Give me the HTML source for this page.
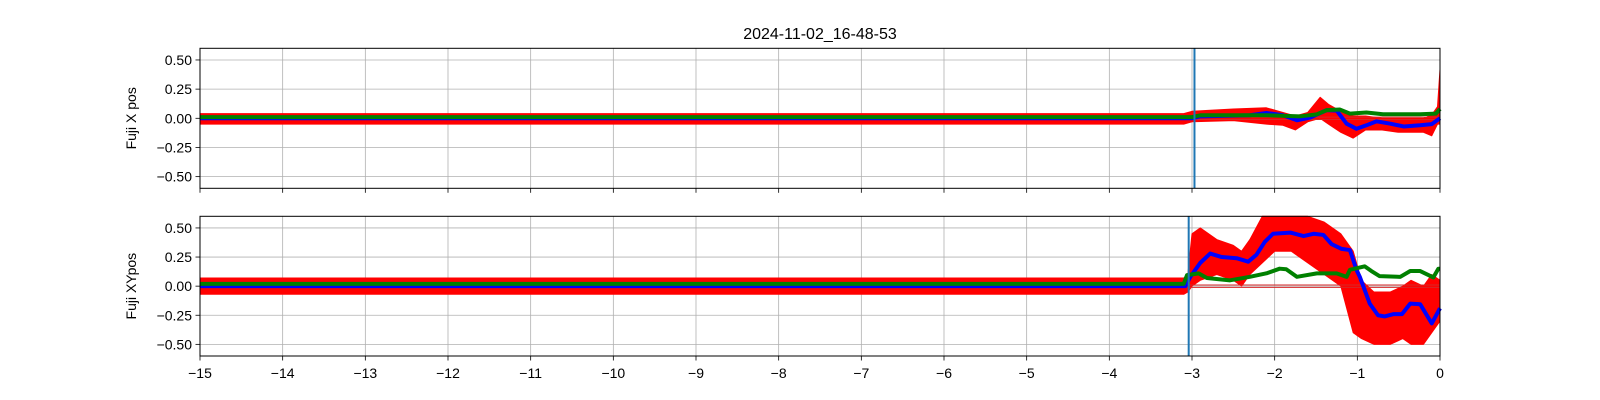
<!DOCTYPE html>
<html><head><meta charset="utf-8"><style>
body{margin:0;background:#fff}
svg{display:block;font-family:"Liberation Sans","DejaVu Sans",sans-serif}
</style></head><body>
<svg id="c" width="1600" height="400" xmlns="http://www.w3.org/2000/svg">
<text x="820" y="39" text-anchor="middle" font-size="16" fill="#000">2024-11-02_16-48-53</text>
</svg>
<script>
// ---- data ----
const xTicks = [-15,-14,-13,-12,-11,-10,-9,-8,-7,-6,-5,-4,-3,-2,-1,0];
const yTicks = [0.5,0.25,0,-0.25,-0.5];
const yTickLabels = ["0.50","0.25","0.00","\u22120.25","\u22120.50"];
const panelLabels = ["Fuji X pos","Fuji XYpos"];
const eventTimes = [-2.97,-3.04];
const refLevels = [0.01,-0.01];
// top panel
const topBlueT = [-15,-3.0,-2.9,-2.3,-2.1,-1.9,-1.73,-1.57,-1.37,-1.25,-1.13,-1.01,-0.89,-0.77,-0.6,-0.44,-0.24,-0.1,0];
const topBlueV = [0,0,0.017,0.026,0.046,0.026,-0.017,0.006,0.07,0.066,-0.046,-0.09,-0.06,-0.026,-0.046,-0.07,-0.06,-0.05,0];
const topGreenT = [-15,-3.0,-2.9,-2.1,-1.69,-1.49,-1.37,-1.21,-1.09,-0.89,-0.69,-0.24,-0.05,0];
const topGreenV = [0.01,0.01,0.026,0.026,0.017,0.034,0.07,0.075,0.04,0.05,0.035,0.035,0.04,0.08];
const topRedT = [-15,-3.1,-3.0,-2.5,-2.1,-1.9,-1.75,-1.6,-1.45,-1.35,-1.2,-1.05,-0.9,-0.7,-0.5,-0.2,-0.1,-0.03,0];
const topRedHi = [0.04,0.04,0.06,0.08,0.09,0.05,0.02,0.05,0.18,0.12,0.06,0.02,0.02,0,0,0,0.03,0.1,0.42];
const topRedLo = [-0.05,-0.05,-0.03,-0.02,-0.05,-0.06,-0.1,-0.03,0,-0.05,-0.12,-0.17,-0.1,-0.1,-0.12,-0.12,-0.15,-0.05,-0.05];
// bottom panel
const botBlueT = [-15,-3.08,-3.02,-2.9,-2.78,-2.64,-2.46,-2.32,-2.22,-2.12,-2.02,-1.81,-1.65,-1.53,-1.41,-1.31,-1.19,-1.09,-1.01,-0.97,-0.85,-0.75,-0.67,-0.56,-0.46,-0.36,-0.24,-0.1,0];
const botBlueV = [0,0,0.08,0.2,0.28,0.25,0.24,0.21,0.27,0.38,0.45,0.46,0.43,0.45,0.44,0.36,0.32,0.31,0.14,0.08,-0.15,-0.25,-0.26,-0.24,-0.24,-0.15,-0.155,-0.32,-0.19];
const botGreenT = [-15,-3.1,-3.06,-2.92,-2.82,-2.54,-2.3,-2.1,-1.94,-1.86,-1.73,-1.49,-1.25,-1.13,-1.09,-0.91,-0.83,-0.73,-0.48,-0.36,-0.24,-0.08,-0.02,0];
const botGreenV = [0.02,0.02,0.095,0.11,0.07,0.05,0.08,0.11,0.15,0.145,0.08,0.11,0.11,0.08,0.14,0.17,0.13,0.086,0.08,0.13,0.13,0.075,0.15,0.15];
const botRedT = [-15,-3.1,-3.05,-3.0,-2.9,-2.7,-2.5,-2.4,-2.3,-2.15,-2.0,-1.8,-1.6,-1.4,-1.2,-1.05,-0.95,-0.8,-0.6,-0.45,-0.35,-0.2,-0.1,0];
const botRedHi = [0.07,0.07,0.1,0.45,0.5,0.4,0.35,0.3,0.4,0.6,0.6,0.6,0.6,0.55,0.45,0.3,0.05,-0.05,-0.05,0,0.05,0,0.1,0.05];
const botRedLo = [-0.07,-0.07,-0.05,0,0.05,0.1,0.05,0,0.1,0.2,0.3,0.3,0.2,0.1,0,-0.4,-0.45,-0.5,-0.5,-0.45,-0.5,-0.5,-0.4,-0.3];

const svg=document.getElementById('c');
const NS='http://www.w3.org/2000/svg';
const X0=200,X1=1440;
const xs=t=>X0+(t+15)/15*(X1-X0);
function mk(tag,attrs,parent){const e=document.createElementNS(NS,tag);for(const k in attrs)e.setAttribute(k,attrs[k]);(parent||svg).appendChild(e);return e;}
const panels=[
 {top:48.3,bot:188.3,blue:[topBlueT,topBlueV],green:[topGreenT,topGreenV],red:[topRedT,topRedHi,topRedLo],ev:eventTimes[0],labels:false,name:'top'},
 {top:216.3,bot:356,blue:[botBlueT,botBlueV],green:[botGreenT,botGreenV],red:[botRedT,botRedHi,botRedLo],ev:eventTimes[1],labels:true,name:'bottom'}
];
panels.forEach((p,pi)=>{
 const ys=v=>(p.top+p.bot)/2-v/1.2*(p.bot-p.top);
 const g=mk('g',{});
 
 
 xTicks.forEach(t=>{
  const l=mk('line',{x1:xs(t),x2:xs(t),y1:p.top,y2:p.bot,stroke:'#b0b0b0','stroke-width':0.8},g);
  
  
  const tk=mk('line',{x1:xs(t),x2:xs(t),y1:p.bot,y2:p.bot+4.5,stroke:'#000','stroke-width':0.8},g);
  
  
  if(p.labels){
   const tx=mk('text',{x:xs(t),y:p.bot+22,'text-anchor':'middle','font-size':14},g);
   tx.textContent=(t<0?'\u2212'+(-t):''+t);
   
   
  }
 });
 yTicks.forEach((v,i)=>{
  const l=mk('line',{x1:X0,x2:X1,y1:ys(v),y2:ys(v),stroke:'#b0b0b0','stroke-width':0.8},g);
  
  
  const tk=mk('line',{x1:X0-4.5,x2:X0,y1:ys(v),y2:ys(v),stroke:'#000','stroke-width':0.8},g);
  
  
  const tx=mk('text',{x:X0-8,y:ys(v)+5,'text-anchor':'end','font-size':14},g);
  tx.textContent=yTickLabels[i];
  
  
 });
 const cy=(p.top+p.bot)/2;
 const yl=mk('text',{x:0,y:0,'text-anchor':'middle','font-size':14,transform:`translate(136,${cy}) rotate(-90)`},g);
 yl.textContent=panelLabels[pi];
 
 
 const [rt,rh,rl]=p.red;
 let pts=rt.map((t,i)=>xs(t)+','+ys(rh[i]));
 for(let i=rt.length-1;i>=0;i--)pts.push(xs(rt[i])+','+ys(rl[i]));
 const rp=mk('polygon',{points:pts.join(' '),fill:'#ff0000',stroke:'#ff0000','stroke-width':1,'stroke-linejoin':'round'},g);
 
 
 refLevels.forEach(v=>{
  const l=mk('line',{x1:xs(p.ev),x2:X1,y1:ys(v),y2:ys(v),stroke:'#d62728','stroke-width':1},g);
  
  
 });
 [['blue','#0000ff'],['green','#008000']].forEach(([k,c])=>{
  const [tt,vv]=p[k];
  const pl=mk('polyline',{points:tt.map((t,i)=>xs(t)+','+ys(vv[i])).join(' '),fill:'none',stroke:c,'stroke-width':4,'stroke-linejoin':'round'},g);
  
  
 });
 const ev=mk('line',{x1:xs(p.ev),x2:xs(p.ev),y1:p.top,y2:p.bot,stroke:'#1f77b4','stroke-width':2},g);
 
 
 const fr=mk('rect',{x:X0,y:p.top,width:X1-X0,height:p.bot-p.top,fill:'none',stroke:'#000','stroke-width':1},g);
 
 
});
</script>
</body></html>
